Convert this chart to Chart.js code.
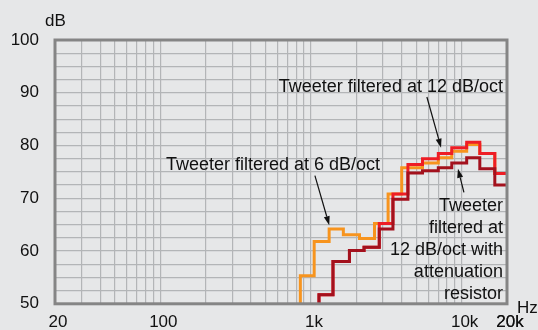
<!DOCTYPE html>
<html>
<head>
<meta charset="utf-8">
<script src="https://cdn.jsdelivr.net/npm/chart.js@4.4.1/dist/chart.umd.min.js"></script>
<style>
  html, body { margin: 0; padding: 0; background: #e6e7e8; }
  #wrap { width: 538px; height: 330px; }
</style>
</head>
<body>
<div id="wrap"><canvas id="response" width="538" height="330"></canvas></div>
<script>
// band edges (Hz) and the level (dB) each curve holds from that edge on
const freq6 = [850, 1050, 1320, 1640, 2100, 2640, 3250, 4000, 5500, 7000, 8600, 10800, 13200, 16600, 20000];
const level6 = [55.3, 61.8, 64.2, 63.1, 62.4, 65.2, 70.8, 75.8, 76.7, 77.7, 78.9, 80.2, 78.5, 74.7, 74.7];

const freq12 = [1130, 1400, 1800, 2250, 2840, 3500, 4400, 5500, 7000, 8600, 10800, 13200, 16600, 20000];
const level12 = [51.7, 58.0, 60.1, 60.7, 65.2, 70.8, 76.4, 77.5, 78.5, 79.6, 80.6, 78.5, 74.7, 74.7];
const level12Att = [51.7, 58.0, 60.1, 60.7, 64.2, 69.8, 74.8, 75.2, 75.8, 76.7, 77.7, 75.6, 72.5, 72.5];

const yTicks = [50, 60, 70, 80, 90, 100];
const xTickValues = [20, 100, 1000, 10000, 20000];
const xTickLabels = ["20", "100", "1k", "10k", "20k"];

const Y_MIN = 50, Y_MAX = 100;
const FONT = "'Liberation Sans', Arial, Helvetica, sans-serif";

// each trace rises out of the bottom axis at its first band edge
function steps(freqs, levels) {
  const pts = [{ x: freqs[0], y: Y_MIN }];
  freqs.forEach((f, i) => pts.push({ x: f, y: levels[i] }));
  return pts;
}

// 1..9 per decade between 20 Hz and 20 kHz for the vertical grid
const gridFreqs = [];
for (let d = 10; d <= 10000; d *= 10) {
  for (let m = 1; m <= 9; m++) {
    const f = m * d;
    if (f >= 20 && f <= 20000) gridFreqs.push(f);
  }
}
gridFreqs.push(20000);

// callouts: text anchor and arrow from/to, all in (Hz, dB)
const notes = [
  { lines: ["Tweeter filtered at 12 dB/oct"], align: "right", at: [18800, 90.1],
    from: [5880, 89.2], to: [7300, 79.6] },
  { lines: ["Tweeter filtered at 6 dB/oct"], align: "left", at: [109, 75.3],
    from: [1062, 74.3], to: [1322, 64.9] },
  { lines: ["Tweeter", "filtered at", "12 dB/oct with", "attenuation", "resistor"], align: "right",
    at: [18800, 67.6], from: [10350, 71.1], to: [9450, 75.6] }
];

function arrow(ctx, x0, y0, x1, y1) {
  const a = Math.atan2(y1 - y0, x1 - x0);
  const len = 9, half = 3;
  const bx = x1 - len * Math.cos(a), by = y1 - len * Math.sin(a);
  ctx.beginPath();
  ctx.moveTo(x0, y0);
  ctx.lineTo(bx, by);
  ctx.stroke();
  ctx.beginPath();
  ctx.moveTo(x1, y1);
  ctx.lineTo(bx + half * Math.sin(a), by - half * Math.cos(a));
  ctx.lineTo(bx - half * Math.sin(a), by + half * Math.cos(a));
  ctx.closePath();
  ctx.fill();
}

const overlay = {
  id: "overlay",
  afterDatasetsDraw(chart) {
    const { ctx, chartArea: a, scales: { x, y } } = chart;
    ctx.save();
    // frame round the plot
    ctx.strokeStyle = "#858585";
    ctx.lineWidth = 3;
    ctx.strokeRect(a.left, a.top, a.right - a.left, a.bottom - a.top);

    // unit labels
    ctx.fillStyle = "#111";
    ctx.font = "17px " + FONT;
    ctx.textAlign = "left";
    ctx.textBaseline = "alphabetic";
    ctx.fillText("dB", 45, 26);
    ctx.fillText("Hz", 517, 313);

    // callouts
    ctx.font = "18px " + FONT;
    ctx.strokeStyle = "#111";
    ctx.lineWidth = 1.2;
    notes.forEach(n => {
      const tx = x.getPixelForValue(n.at[0]);
      const ty = y.getPixelForValue(n.at[1]);
      ctx.textAlign = n.align;
      n.lines.forEach((t, i) => ctx.fillText(t, tx, ty + i * 22));
      arrow(ctx,
        x.getPixelForValue(n.from[0]), y.getPixelForValue(n.from[1]),
        x.getPixelForValue(n.to[0]), y.getPixelForValue(n.to[1]));
    });
    ctx.restore();
  }
};

Chart.defaults.font.family = FONT;
Chart.defaults.font.size = 17;
Chart.defaults.color = "#111";

const line = (data, color) => ({
  data,
  borderColor: color,
  borderWidth: 3,
  borderJoinStyle: "miter",
  borderCapStyle: "butt",
  pointRadius: 0,
  stepped: "before",
  fill: false
});

new Chart(document.getElementById("response"), {
  type: "line",
  data: {
    datasets: [
      line(steps(freq12, level12Att), "#a3111d"),
      line(steps(freq12, level12), "#ee1d25"),
      line(steps(freq6, level6), "#f7941e")
    ]
  },
  options: {
    responsive: false,
    animation: false,
    layout: { padding: { top: 40, right: 31, bottom: 0, left: 0 } },
    plugins: { legend: { display: false }, tooltip: { enabled: false } },
    scales: {
      x: {
        type: "logarithmic",
        min: 20,
        max: 20000,
        afterFit: s => { s.height = 25; },
        afterBuildTicks: s => { s.ticks = gridFreqs.map(v => ({ value: v })); },
        grid: { color: "#b3b5b7", lineWidth: 1.2, drawTicks: false },
        border: { display: false },
        ticks: {
          autoSkip: false,
          maxRotation: 0,
          padding: 8,
          labelOffset: 3,
          callback: v => {
            const i = xTickValues.indexOf(v);
            return i >= 0 ? xTickLabels[i] : "";
          }
        }
      },
      y: {
        min: Y_MIN,
        max: Y_MAX,
        afterFit: s => { s.width = 55; },
        grid: { color: "#b3b5b7", lineWidth: 1.2, drawTicks: false },
        border: { display: false },
        ticks: {
          stepSize: 2.5,
          autoSkip: false,
          padding: 16,
          callback: v => (yTicks.includes(v) ? String(v) : "")
        }
      }
    }
  },
  plugins: [overlay]
});
</script>
</body>
</html>
